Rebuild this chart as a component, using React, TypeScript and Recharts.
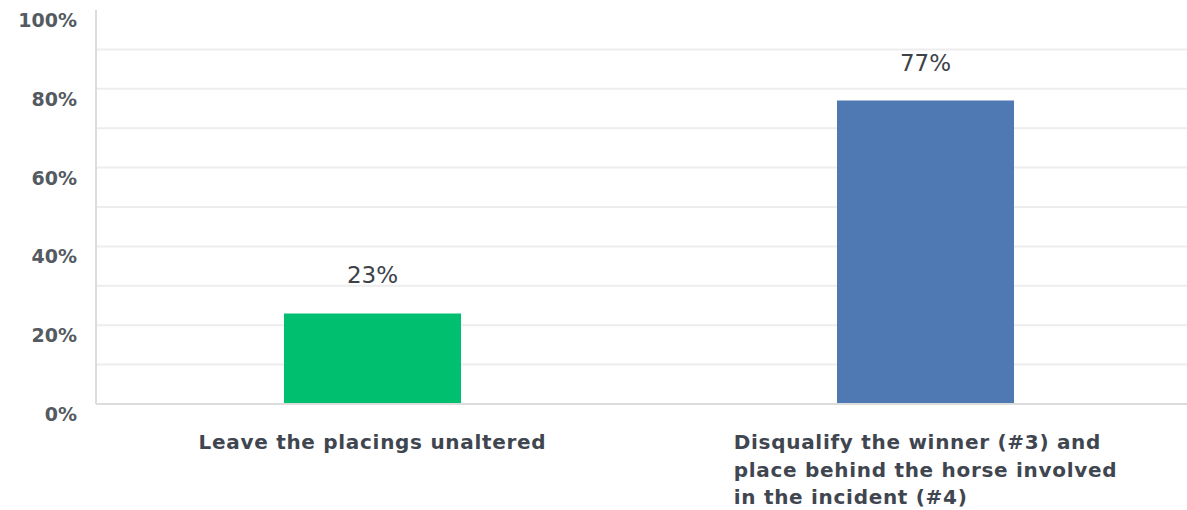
import { BarChart, Bar, XAxis, YAxis, CartesianGrid, LabelList, Cell } from "recharts";

const categoryLines = [
  ["Leave the placings unaltered"],
  ["Disqualify the winner (#3) and", "place behind the horse involved", "in the incident (#4)"],
];
const categories = categoryLines.map((lines) => lines.join(" "));
const shares = [23, 77];
const barColors = ["#00bf6f", "#4e79b3"];
const yTicks = [0, 10, 20, 30, 40, 50, 60, 70, 80, 90, 100];
const gridValues = [10, 20, 30, 40, 50, 60, 70, 80, 90];

const FONT = "'DejaVu Sans', sans-serif";
const CAT_SIZE = 20;
const CAT_SPACING = 0.7;

const data = categories.map((name, i) => ({ name, value: shares[i] }));

let canvas: HTMLCanvasElement | null = null;
function textWidth(s: string, font: string, spacing: number) {
  if (!canvas) canvas = document.createElement("canvas");
  const ctx = canvas.getContext("2d");
  if (!ctx) return s.length * 12;
  ctx.font = font;
  return ctx.measureText(s).width + s.length * spacing;
}

function CategoryTick(props: any) {
  const { x, y, index } = props;
  const lines = categoryLines[index] || [];
  const font = `bold ${CAT_SIZE}px 'DejaVu Sans'`;
  const w = Math.max(...lines.map((l) => textWidth(l, font, CAT_SPACING)));
  const left = x - w / 2;
  return (
    <g>
      {lines.map((l, i) => (
        <text
          key={i}
          x={left}
          y={y + 37 + i * 27.5}
          textAnchor="start"
          fill="#3f4650"
          fontFamily={FONT}
          fontWeight="bold"
          fontSize={CAT_SIZE}
          letterSpacing={CAT_SPACING}
        >
          {l}
        </text>
      ))}
    </g>
  );
}

function PercentTick(props: any) {
  const { x, y, payload } = props;
  if (payload.value % 20 !== 0) return null;
  return (
    <text
      x={x - 11}
      y={y + 17}
      textAnchor="end"
      fill="#545a61"
      fontFamily={FONT}
      fontWeight="bold"
      fontSize={19}
    >
      {payload.value}%
    </text>
  );
}

export default function App() {
  return (
    <div style={{ position: "absolute", left: 0, top: 0, width: 1187, height: 510, overflow: "hidden", background: "#fff" }}>
      <BarChart
        width={1208}
        height={510}
        data={data}
        margin={{ top: 10, right: 6, bottom: 0, left: 0 }}
        barSize={177}
      >
        <CartesianGrid
          vertical={false}
          horizontalValues={gridValues}
          stroke="#ededed"
          strokeWidth={2}
        />
        <XAxis
          dataKey="name"
          interval={0}
          height={106}
          tickLine={false}
          axisLine={{ stroke: "#dcdcdc", strokeWidth: 2 }}
          tick={<CategoryTick />}
        />
        <YAxis
          type="number"
          domain={[0, 100]}
          ticks={yTicks}
          width={96}
          tickLine={false}
          axisLine={{ stroke: "#dcdcdc", strokeWidth: 2 }}
          tick={<PercentTick />}
        />
        <Bar dataKey="value" isAnimationActive={false}>
          {data.map((_, i) => (
            <Cell key={`cell-${i}`} fill={barColors[i]} />
          ))}
          <LabelList
            dataKey="value"
            position="top"
            offset={30}
            formatter={(v: any) => `${v}%`}
            fill="#3d4248"
            fontFamily={FONT}
            fontSize={23}
          />
        </Bar>
      </BarChart>
    </div>
  );
}
